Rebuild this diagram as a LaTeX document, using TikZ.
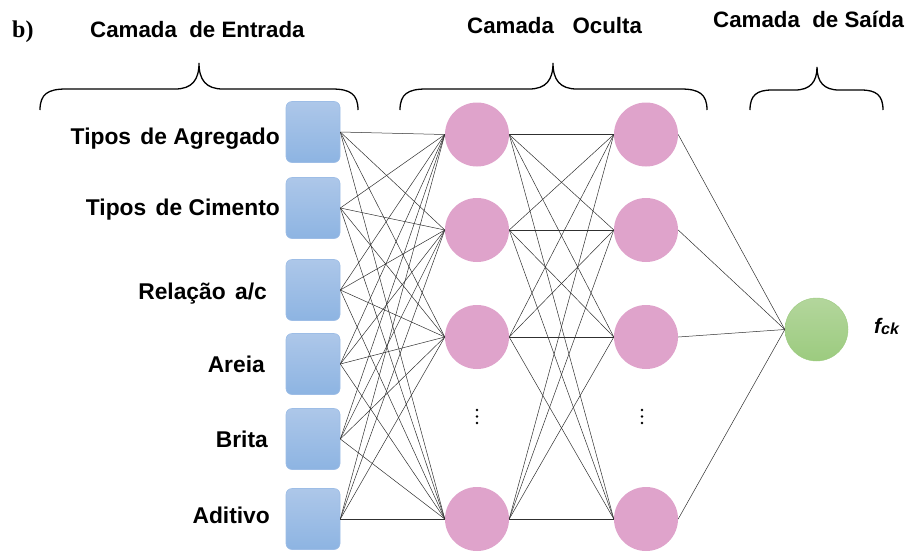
\documentclass[tikz,border=0pt]{standalone}
\usepackage{fontspec}
\setmainfont{Liberation Sans}
\newfontfamily\serifb{Liberation Serif}
\definecolor{boxtop}{HTML}{ADC7E9}
\definecolor{boxbot}{HTML}{8DB4E2}
\definecolor{boxedge}{HTML}{9DBDE6}
\definecolor{pinkc}{HTML}{DFA3CB}
\definecolor{greentop}{HTML}{B3D69C}
\definecolor{greenbot}{HTML}{9CCB7F}
\definecolor{linec}{HTML}{303030}
\begin{document}
\begin{tikzpicture}[x=1pt,y=-1pt,
  inbox/.style={draw=boxedge,line width=0.6pt,rounded corners=6pt,top color=boxtop,bottom color=boxbot,minimum width=54pt,minimum height=61pt,inner sep=0pt},
  hid/.style={circle,fill=pinkc,minimum size=64pt,inner sep=0pt},
  outc/.style={circle,top color=greentop,bottom color=greenbot,draw=greenbot,line width=0.4pt,minimum size=63pt,inner sep=0pt},
  lab/.style={font=\bfseries\fontsize{22.8}{25}\selectfont,anchor=base east,inner sep=0pt},
  ttl/.style={font=\bfseries\fontsize{22.3}{25}\selectfont,anchor=base west,inner sep=0pt},
  conn/.style={draw=linec,line width=0.5pt},
  brace/.style={draw=black,line width=1.3pt},
  dotc/.style={circle,fill=black,minimum size=2.8pt,inner sep=0pt}]
\useasboundingbox (0,0) rectangle (909,552);
% input boxes
\foreach \i/\y in {1/132,2/208,3/290,4/364,5/439,6/519}
  \node[inbox] (i\i) at (313,\y) {};
% hidden layers
\foreach \j/\y in {1/134.5,2/230,3/337,4/519}{
  \node[hid] (a\j) at (477,\y) {};
  \node[hid] (b\j) at (646,\y) {};
}
\node[outc] (o) at (816.5,329.5) {};
% dots
\foreach \k/\y in {1/410,2/416.5,3/423}{
  \node[dotc] (da\k) at (477,\y) {};
  \node[dotc] (db\k) at (642,\y) {};
}
% connections
\foreach \i in {1,...,6}
  \foreach \j in {1,...,4}
    \draw[conn] (i\i.east) -- (a\j.west);
\foreach \i in {1,...,4}
  \foreach \j in {1,...,4}
    \draw[conn] (a\i.east) -- (b\j.west);
\foreach \i in {1,...,4}
  \draw[conn] (b\i.east) -- (o.west);
% labels
\node[lab] (l1) at (280,144) {Tipos\ \hspace{3pt}de Agregado};
\node[lab] (l2) at (280,215) {Tipos\ \hspace{3pt}de Cimento};
\node[lab] (l3) at (267,299) {Relação\ \hspace{3pt}a/c};
\node[lab] (l4) at (265,372) {Areia};
\node[lab] (l5) at (268,447) {Brita};
\node[lab] (l6) at (270,523) {Aditivo};
\node[font=\bfseries\itshape\fontsize{21}{23}\selectfont,anchor=base west,inner sep=0pt] (fck) at (874,333) {f\raisebox{-1.5pt}{\fontsize{16}{17}\selectfont ck}};
% titles
\node[anchor=base west,inner sep=0pt,font=\serifb\bfseries\fontsize{24}{26}\selectfont] (b) at (12,37) {b)};
\node[ttl] (t1) at (90,37) {Camada\ \ de Entrada};
\node[ttl] (t2) at (467,33) {Camada\ \ \ Oculta};
\node[ttl] (t3) at (713,27) {Camada\ \ de Saída};
% braces
\draw[brace] (40,110) .. controls (40,94) and (48,89) .. (66,89) -- (175,89) .. controls (192,89) and (199,80) .. (199,63)
  .. controls (199,80) and (206,89) .. (223,89) -- (332,89) .. controls (350,89) and (358,94) .. (358,110);
\draw[brace] (400,110) .. controls (400,94) and (408,89) .. (426,89) -- (529,89) .. controls (546,89) and (553,80) .. (553,63)
  .. controls (553,80) and (560,89) .. (577,89) -- (681,89) .. controls (699,89) and (707,94) .. (707,110);
\draw[brace] (750,110) .. controls (750,95) and (757,90) .. (772,90) -- (795,90) .. controls (810,90) and (817,82) .. (817,67)
  .. controls (817,82) and (824,90) .. (839,90) -- (861,90) .. controls (876,90) and (883,95) .. (883,110);
\end{tikzpicture}
\end{document}
